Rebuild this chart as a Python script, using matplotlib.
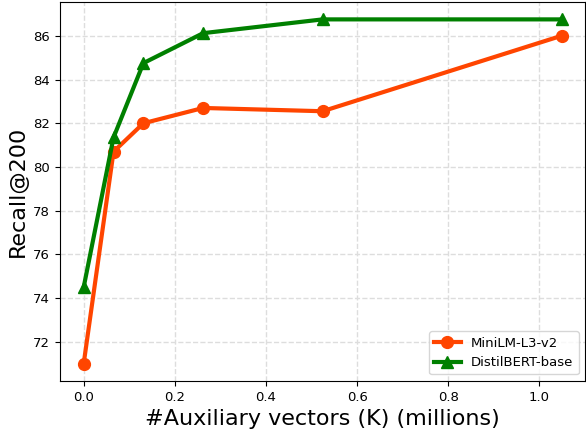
import matplotlib
matplotlib.use("Agg")
import matplotlib.pyplot as plt

# Auxiliary vectors K (millions)
aux_k = [0.0, 0.065536, 0.131072, 0.262144, 0.524288, 1.048576]
minilm = [71.0, 80.7, 82.0, 82.7, 82.55, 86.0]
distilbert = [74.5, 81.35, 84.75, 86.12, 86.75, 86.75]

fig, ax = plt.subplots(figsize=(5.86, 4.33), dpi=100)
fig.subplots_adjust(left=0.102, right=0.999, top=0.995, bottom=0.12)

ax.plot(aux_k, minilm, "o-", color="orangered", lw=3, ms=8.5, label="MiniLM-L3-v2")
ax.plot(aux_k, distilbert, "^-", color="green", lw=3, ms=8.5, label="DistilBERT-base")

ax.set_xlabel("#Auxiliary vectors (K) (millions)", fontsize=16)
ax.set_ylabel("Recall@200", fontsize=16)
ax.set_yticks([72, 74, 76, 78, 80, 82, 84, 86])
ax.tick_params(labelsize=9.5)
ax.grid(True, ls="--", color="#dddddd", lw=1)
ax.legend(loc="lower right", fontsize=9.5)

plt.savefig("out.png", dpi=100)
